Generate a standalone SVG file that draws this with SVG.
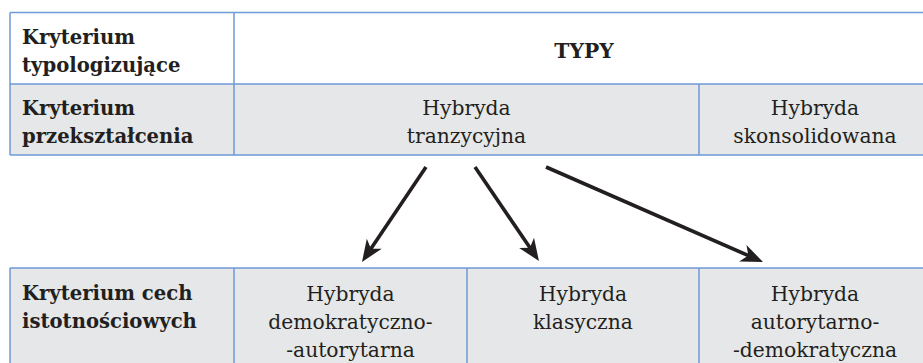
<svg xmlns="http://www.w3.org/2000/svg" width="923" height="363" viewBox="0 0 923 363">
<style>
.grid{stroke:#6f9bd6;stroke-width:1.5;fill:none}
.lbl{font-family:'DejaVu Serif',serif;font-weight:bold;font-size:19.6px;fill:#231f20}
.val{font-family:'DejaVu Serif',serif;font-size:20.3px;fill:#231f20;text-anchor:middle}
.arr{stroke:#231f20;stroke-width:3.6;fill:none;marker-end:url(#ah)}
</style>
<defs>
<marker id="ah" markerUnits="userSpaceOnUse" viewBox="-24 -11 26 22" refX="-12" refY="0" markerWidth="26" markerHeight="22" orient="auto">
<path d="M0,0 L-22,-9 L-16,0 L-22,9 Z" fill="#231f20"/>
</marker>
</defs>
<rect x="0" y="0" width="923" height="363" fill="#ffffff"/>
<g id="top-table">
<rect x="10" y="84" width="930" height="71" fill="#e6e7e8"/>
<path class="grid" d="M10,12.5 H940 M10,84 H940 M10,155 H940 M10,12.5 V155 M234,12.5 V155 M699,84 V155"/>
</g>
<g id="row-typologizujace">
<text class="lbl" x="22" y="44">Kryterium</text>
<text class="lbl" x="22" y="72">typologizujące</text>
<text class="val" x="584" y="58" font-weight="bold" font-size="19.6px">TYPY</text>
</g>
<g id="row-przeksztalcenia">
<text class="lbl" x="22" y="115">Kryterium</text>
<text class="lbl" x="22" y="143">przekształcenia</text>
</g>
<g id="node-tranzycyjna">
<text class="val" x="466.5" y="115">Hybryda</text>
<text class="val" x="466.5" y="143">tranzycyjna</text>
</g>
<g id="node-skonsolidowana">
<text class="val" x="815" y="115">Hybryda</text>
<text class="val" x="815" y="143">skonsolidowana</text>
</g>
<g id="bottom-table">
<rect x="10" y="268" width="930" height="100" fill="#e6e7e8"/>
<path class="grid" d="M10,268 H940 M10,268 V370 M234,268 V370 M467,268 V370 M699,268 V370"/>
</g>
<g id="row-istotnosciowe">
<text class="lbl" x="22" y="300">Kryterium cech</text>
<text class="lbl" x="22" y="328">istotnościowych</text>
</g>
<g id="node-demokratyczno">
<text class="val" x="350.5" y="301">Hybryda</text>
<text class="val" x="350.5" y="329">demokratyczno-</text>
<text class="val" x="350.5" y="357">-autorytarna</text>
</g>
<g id="node-klasyczna">
<text class="val" x="583" y="301">Hybryda</text>
<text class="val" x="583" y="329">klasyczna</text>
</g>
<g id="node-autorytarno">
<text class="val" x="815" y="301">Hybryda</text>
<text class="val" x="815" y="329">autorytarno-</text>
<text class="val" x="815" y="357">-demokratyczna</text>
</g>
<g id="connectors">
<line class="arr" x1="426" y1="167" x2="368.7" y2="252"/>
<line class="arr" x1="475" y1="167" x2="532.2" y2="251.1"/>
<line class="arr" x1="546" y1="167" x2="752" y2="257.2"/>
</g>
</svg>
